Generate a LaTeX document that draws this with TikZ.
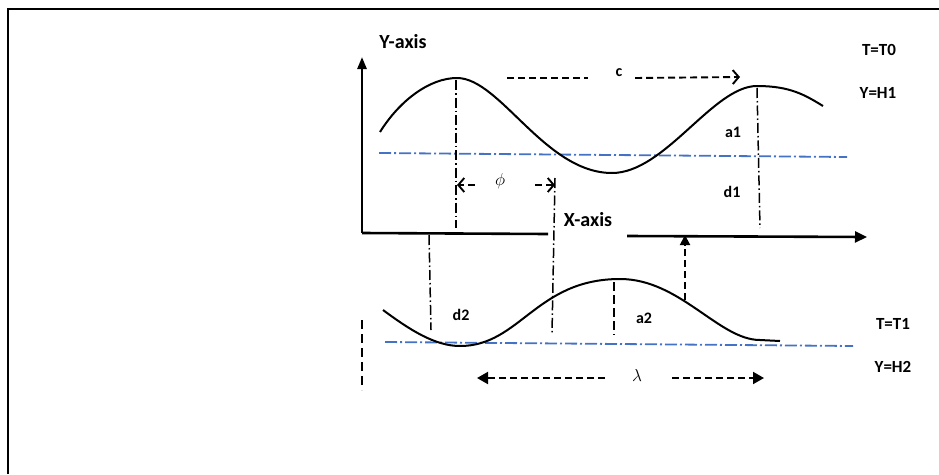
\documentclass[tikz,border=0pt]{standalone}
\usepackage{fontspec}
\setmainfont{Carlito}
\usetikzlibrary{arrows.meta}
\definecolor{refblue}{RGB}{68,114,196}
\begin{document}
\begin{tikzpicture}[x=1pt,y=-1pt,
  wave/.style={line width=2pt},
  axisline/.style={line width=2.6pt},
  dashdot/.style={line width=1.5pt, dash pattern=on 10pt off 3pt on 1.5pt off 3pt},
  blueline/.style={refblue, line width=1.8pt, dash pattern=on 12pt off 3pt on 2pt off 3pt},
  dasharrow/.style={line width=1.9pt, dash pattern=on 7pt off 4pt},
  biglabel/.style={font=\fontsize{20}{24}\selectfont\bfseries, inner sep=0pt},
  sidelabel/.style={font=\fontsize{17}{20}\selectfont\bfseries, inner sep=0pt},
  smalllabel/.style={font=\fontsize{16}{18}\selectfont\bfseries, inner sep=0pt},
  greek/.style={font=\fontsize{19}{21}\selectfont, inner sep=0pt}]
\useasboundingbox (0,0) rectangle (939,474);
% frame
\coordinate (fbl) at (8,474);
\coordinate (ftl) at (8,9);
\coordinate (ftr) at (939,9);
\draw[line width=2pt] (fbl) -- (ftl) -- (ftr);

% axes
\coordinate (O) at (362,233);
\coordinate (Ytip) at (362,57);
\coordinate (Xend1) at (548,234);
\coordinate (Xstart2) at (627,236);
\coordinate (Xtip) at (867,237);
\draw[axisline,-{Triangle[length=12pt,width=9pt]}] (O) -- (Ytip);
\draw[axisline] (O) -- (Xend1);
\draw[axisline,-{Triangle[length=12pt,width=11pt]}] (Xstart2) -- (Xtip);
\node[biglabel] (ylab) at (403,42) {Y-axis};
\node[biglabel] (xlab) at (588,220) {X-axis};

% blue mean lines
\coordinate (b1s) at (379,153);
\coordinate (b1e) at (847,157);
\coordinate (b2s) at (385,342);
\coordinate (b2e) at (853,346);
\draw[blueline] (b1s) -- (b1e);
\draw[blueline] (b2s) -- (b2e);

% upper wave
\coordinate (uA) at (380,132);
\coordinate (uP1) at (457,78);
\coordinate (uT1) at (612,173);
\coordinate (uP2) at (757,86);
\coordinate (uE) at (823,106);
\draw[wave] (uA) .. controls (400,100) and (430,78) .. (uP1)
  .. controls (500,78) and (545,173) .. (uT1)
  .. controls (665,173) and (713,86) .. (uP2)
  .. controls (790,86) and (805,95) .. (uE);

% lower wave
\coordinate (lS) at (383,310);
\coordinate (lTr) at (460,346);
\coordinate (lPk) at (620,279);
\coordinate (lL) at (760,340);
\coordinate (lE) at (780,341);
\draw[wave] (lS) .. controls (410,330) and (435,346) .. (lTr)
  .. controls (520,346) and (536,279) .. (lPk)
  .. controls (680,279) and (719,340) .. (lL) -- (lE);

% vertical dash-dot lines
\coordinate (v1t) at (456,80);
\coordinate (v1b) at (456,228);
\draw[dashdot] (v1t) -- (v1b);
\coordinate (v2t) at (757,88);
\coordinate (v2b) at (760,228);
\draw[dashdot] (v2t) -- (v2b);
\coordinate (v3t) at (555,178);
\coordinate (v3b) at (552,333);
\draw[dashdot] (v3t) -- (v3b);
\coordinate (v4t) at (429,235);
\coordinate (v4b) at (431,330);
\draw[dashdot] (v4t) -- (v4b);

% dashed verticals
\coordinate (v5t) at (614,282);
\coordinate (v5b) at (614,335);
\draw[line width=1.7pt, dash pattern=on 9pt off 4pt] (v5t) -- (v5b);
\coordinate (v6t) at (362,320);
\coordinate (v6b) at (362,390);
\draw[line width=1.7pt, dash pattern=on 9pt off 5pt] (v6t) -- (v6b);
\coordinate (upS) at (685,300);
\coordinate (upT) at (685,235);
\draw[dasharrow,-{Triangle[length=10pt,width=10pt]}] (upS) -- (upT);

% c arrow
\coordinate (c1s) at (507,78);
\coordinate (c1e) at (588,78);
\node[smalllabel] (clab) at (619,73) {c};
\coordinate (c2s) at (635,78);
\coordinate (c2e) at (740,77);
\draw[dasharrow] (c1s) -- (c1e);
\draw[dasharrow,-{Straight Barb[length=6pt,width=14pt]}] (c2s) -- (c2e);

% phi arrows
\coordinate (p1s) at (475,185);
\coordinate (p1e) at (457,185);
\coordinate (p2s) at (535,185);
\coordinate (p2e) at (555,185);
\draw[dasharrow,-{Straight Barb[length=6pt,width=14pt]}] (p1s) -- (p1e);
\draw[dasharrow,-{Straight Barb[length=6pt,width=14pt]}] (p2s) -- (p2e);
\node[greek] (phi) at (500,181) {$\phi$};

% lambda arrows
\coordinate (l1s) at (605,378);
\coordinate (l1e) at (477,378);
\coordinate (l2s) at (672,378);
\coordinate (l2e) at (764,378);
\draw[dasharrow,-{Triangle[length=11pt,width=12pt]}] (l1s) -- (l1e);
\draw[dasharrow,-{Triangle[length=11pt,width=12pt]}] (l2s) -- (l2e);
\node[greek] (lam) at (637,375) {$\lambda$};

% labels
\node[smalllabel] (a1) at (733,132) {a1};
\node[smalllabel] (d1) at (732,192) {d1};
\node[smalllabel] (d2) at (461,315) {d2};
\node[smalllabel] (a2) at (644,318) {a2};
\node[sidelabel] (t0) at (879,50) {T=T0};
\node[sidelabel] (h1) at (878,93) {Y=H1};
\node[sidelabel] (t1) at (893,324) {T=T1};
\node[sidelabel] (h2) at (893,367) {Y=H2};
\end{tikzpicture}
\end{document}
